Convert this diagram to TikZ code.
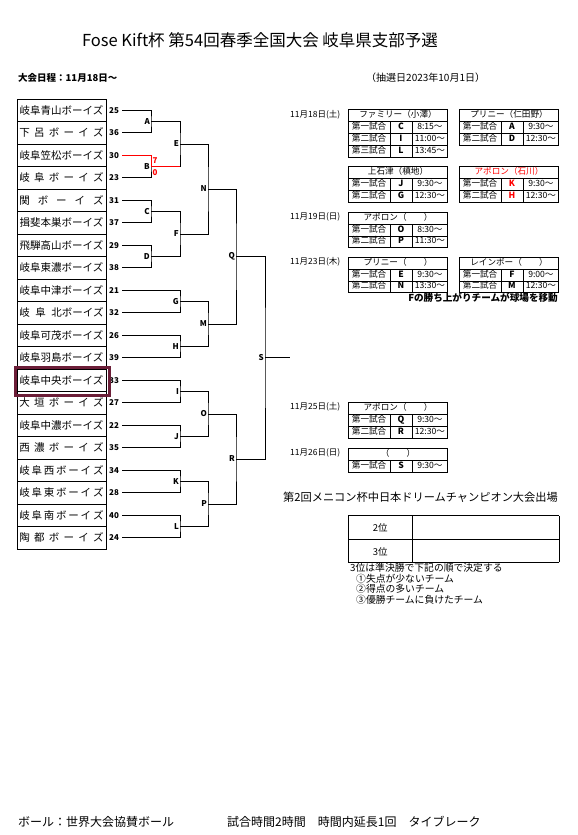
\documentclass[tikz,border=0pt]{standalone}
\usepackage{fontspec}
\usepackage{array}
\setmainfont{Noto Sans CJK JP}
\usetikzlibrary{positioning}
\definecolor{hilite}{RGB}{108,30,56}
\setlength{\tabcolsep}{0pt}
\newcolumntype{C}[1]{>{\centering\arraybackslash}p{#1}}
\newcommand{\spaced}[1]{\makebox[84pt][s]{#1}}
\tikzstyle{team} = [rectangle,draw,minimum width=89pt,minimum height=22.5pt,inner sep=0pt,outer sep=0pt,font=\fontsize{10.5}{12}\selectfont]
\tikzstyle{seed} = [inner xsep=3pt,inner ysep=0pt,font=\fontsize{8}{9}\selectfont\bfseries]
\tikzstyle{lbl} = [anchor=east,inner sep=1pt,font=\fontsize{8}{9}\selectfont\bfseries]
\tikzstyle{score} = [anchor=west,inner sep=0pt,text=red,font=\fontsize{8}{9}\selectfont\bfseries]
\tikzstyle{sched} = [anchor=north west,inner sep=0pt,font=\fontsize{8.6}{11.5}\selectfont]
\tikzstyle{day} = [anchor=west,inner sep=0pt,font=\fontsize{8.5}{10}\selectfont]
\tikzstyle{bline} = [line width=0.8pt]

\begin{document}
\begin{tikzpicture}[x=1pt,y=-1pt]
    	\useasboundingbox (0,0) rectangle (578,835);

    	\node[font=\fontsize{16.5}{18}\selectfont](title) at (260,40) {Fose Kift杯 第54回春季全国大会 岐阜県支部予選};
    	\node[day,font=\fontsize{9.5}{11}\selectfont\bfseries](dates) at (18,78) {大会日程：11月18日～};
    	\node[day,font=\fontsize{10}{11}\selectfont](draw) at (366,78) {（抽選日2023年10月1日）};

    	\node[team](t1) at (61.5,110.25) {岐阜青山ボーイズ};
    	\node[team,below=0pt of t1](t2) {\spaced{下 呂 ボ ー イ ズ}};
    	\node[team,below=0pt of t2](t3) {岐阜笠松ボーイズ};
    	\node[team,below=0pt of t3](t4) {\spaced{岐 阜 ボ ー イ ズ}};
    	\node[team,below=0pt of t4](t5) {\spaced{関 ボ ー イ ズ}};
    	\node[team,below=0pt of t5](t6) {揖斐本巣ボーイズ};
    	\node[team,below=0pt of t6](t7) {飛騨高山ボーイズ};
    	\node[team,below=0pt of t7](t8) {岐阜東濃ボーイズ};
    	\node[team,below=0pt of t8](t9) {岐阜中津ボーイズ};
    	\node[team,below=0pt of t9](t10) {\spaced{岐 阜 北ボーイズ}};
    	\node[team,below=0pt of t10](t11) {岐阜可茂ボーイズ};
    	\node[team,below=0pt of t11](t12) {岐阜羽島ボーイズ};
    	\node[team,below=0pt of t12](t13) {岐阜中央ボーイズ};
    	\node[team,below=0pt of t13](t14) {\spaced{大 垣 ボ ー イ ズ}};
    	\node[team,below=0pt of t14](t15) {岐阜中濃ボーイズ};
    	\node[team,below=0pt of t15](t16) {\spaced{西 濃 ボ ー イ ズ}};
    	\node[team,below=0pt of t16](t17) {\spaced{岐 阜 西 ボ ー イ ズ}};
    	\node[team,below=0pt of t17](t18) {\spaced{岐 阜 東 ボ ー イ ズ}};
    	\node[team,below=0pt of t18](t19) {\spaced{岐 阜 南 ボ ー イ ズ}};
    	\node[team,below=0pt of t19](t20) {\spaced{陶 都 ボ ー イ ズ}};

    	\node[seed,right=0pt of t1](s1) {25};
    	\node[seed,right=0pt of t2](s2) {36};
    	\node[seed,right=0pt of t3](s3) {30};
    	\node[seed,right=0pt of t4](s4) {23};
    	\node[seed,right=0pt of t5](s5) {31};
    	\node[seed,right=0pt of t6](s6) {37};
    	\node[seed,right=0pt of t7](s7) {29};
    	\node[seed,right=0pt of t8](s8) {38};
    	\node[seed,right=0pt of t9](s9) {21};
    	\node[seed,right=0pt of t10](s10) {32};
    	\node[seed,right=0pt of t11](s11) {26};
    	\node[seed,right=0pt of t12](s12) {39};
    	\node[seed,right=0pt of t13](s13) {33};
    	\node[seed,right=0pt of t14](s14) {27};
    	\node[seed,right=0pt of t15](s15) {22};
    	\node[seed,right=0pt of t16](s16) {35};
    	\node[seed,right=0pt of t17](s17) {34};
    	\node[seed,right=0pt of t18](s18) {28};
    	\node[seed,right=0pt of t19](s19) {40};
    	\node[seed,right=0pt of t20](s20) {24};

    	\node[draw=hilite,line width=2.5pt,minimum width=94pt,minimum height=28pt](mark) at (62.5,381.5) {};

    	% match points
    	\coordinate (A) at (151,121.5);
    	\coordinate (B) at (151,166.5);
    	\coordinate (C) at (151,211.5);
    	\coordinate (D) at (151,256.5);
    	\coordinate (E) at (180,144);
    	\coordinate (F) at (180,234);
    	\coordinate (G) at (180,301.5);
    	\coordinate (H) at (180,346.5);
    	\coordinate (I) at (180,391.5);
    	\coordinate (J) at (180,436.5);
    	\coordinate (K) at (180,481.5);
    	\coordinate (L) at (180,526.5);
    	\coordinate (N) at (208,189);
    	\coordinate (M) at (208,324);
    	\coordinate (O) at (208,414);
    	\coordinate (P) at (208,504);
    	\coordinate (Q) at (236,256.5);
    	\coordinate (R) at (236,459);
    	\coordinate (S) at (265,357.75);
    	\coordinate (champ) at (290,357.75);

    	\draw[bline] (s1.east) -| (A) |- (s2.east);
    	\draw[bline] (s3.east) -| (B) |- (s4.east);
    	\draw[bline] (s5.east) -| (C) |- (s6.east);
    	\draw[bline] (s7.east) -| (D) |- (s8.east);
    	\draw[bline] (s9.east) -| (G) |- (s10.east);
    	\draw[bline] (s11.east) -| (H) |- (s12.east);
    	\draw[bline] (s13.east) -| (I) |- (s14.east);
    	\draw[bline] (s15.east) -| (J) |- (s16.east);
    	\draw[bline] (s17.east) -| (K) |- (s18.east);
    	\draw[bline] (s19.east) -| (L) |- (s20.east);
    	\draw[bline] (A) -| (E) |- (B);
    	\draw[bline] (C) -| (F) |- (D);
    	\draw[bline] (E) -| (N) |- (F);
    	\draw[bline] (G) -| (M) |- (H);
    	\draw[bline] (I) -| (O) |- (J);
    	\draw[bline] (K) -| (P) |- (L);
    	\draw[bline] (N) -| (Q) |- (M);
    	\draw[bline] (O) -| (R) |- (P);
    	\draw[bline] (Q) -| (S) |- (R);
    	\draw[bline] (S) -- (champ);
    	\draw[bline,red] (s3.east) -| (B) -- (E |- B);

    	\node[score](sc1) at (152.5,160.5) {7};
    	\node[score](sc2) at (152.5,172.5) {0};

    	\node[lbl](lA) at (A) {A};
    	\node[lbl](lB) at (B) {B};
    	\node[lbl](lC) at (C) {C};
    	\node[lbl](lD) at (D) {D};
    	\node[lbl](lE) at (E) {E};
    	\node[lbl](lF) at (F) {F};
    	\node[lbl](lG) at (G) {G};
    	\node[lbl](lH) at (H) {H};
    	\node[lbl](lI) at (I) {I};
    	\node[lbl](lJ) at (J) {J};
    	\node[lbl](lK) at (K) {K};
    	\node[lbl](lL) at (L) {L};
    	\node[lbl](lM) at (M) {M};
    	\node[lbl](lN) at (N) {N};
    	\node[lbl](lO) at (O) {O};
    	\node[lbl](lP) at (P) {P};
    	\node[lbl](lQ) at (Q) {Q};
    	\node[lbl](lR) at (R) {R};
    	\node[lbl](lS) at (S) {S};

    	% schedule
    	\node[day](d18) at (290,115) {11月18日(土)};
    	\node[sched](famiry) at (348,109) {\begin{tabular}{|C{41pt}|C{22pt}|C{35pt}|}\hline
    		\multicolumn{3}{|c|}{ファミリー（小澤）}\\\hline
    		第一試合 & \textbf{C} & 8:15～\\\hline
    		第二試合 & \textbf{I} & 11:00～\\\hline
    		第三試合 & \textbf{L} & 13:45～\\\hline
    		\end{tabular}};
    	\node[sched](pliny1) at (459,109) {\begin{tabular}{|C{41pt}|C{22pt}|C{35pt}|}\hline
    		\multicolumn{3}{|c|}{プリニー（仁田野）}\\\hline
    		第一試合 & \textbf{A} & 9:30～\\\hline
    		第二試合 & \textbf{D} & 12:30～\\\hline
    		\end{tabular}};
    	\node[sched](kamiishizu) at (348,166) {\begin{tabular}{|C{41pt}|C{22pt}|C{35pt}|}\hline
    		\multicolumn{3}{|c|}{上石津（槙地）}\\\hline
    		第一試合 & \textbf{J} & 9:30～\\\hline
    		第二試合 & \textbf{G} & 12:30～\\\hline
    		\end{tabular}};
    	\node[sched](apollo1) at (459,166) {\begin{tabular}{|C{41pt}|C{22pt}|C{35pt}|}\hline
    		\multicolumn{3}{|c|}{\color{red}アポロン（石川）}\\\hline
    		第一試合 & \textcolor{red}{\textbf{K}} & 9:30～\\\hline
    		第二試合 & \textcolor{red}{\textbf{H}} & 12:30～\\\hline
    		\end{tabular}};

    	\node[day](d19) at (290,217) {11月19日(日)};
    	\node[sched](apollo2) at (348,211.5) {\begin{tabular}{|C{41pt}|C{22pt}|C{35pt}|}\hline
    		\multicolumn{3}{|c|}{アポロン（　　）}\\\hline
    		第一試合 & \textbf{O} & 8:30～\\\hline
    		第二試合 & \textbf{P} & 11:30～\\\hline
    		\end{tabular}};

    	\node[day](d23) at (290,262) {11月23日(木)};
    	\node[sched](pliny2) at (348,256.5) {\begin{tabular}{|C{41pt}|C{22pt}|C{35pt}|}\hline
    		\multicolumn{3}{|c|}{プリニー（　　）}\\\hline
    		第一試合 & \textbf{E} & 9:30～\\\hline
    		第二試合 & \textbf{N} & 13:30～\\\hline
    		\end{tabular}};
    	\node[sched](rainbow) at (459,256.5) {\begin{tabular}{|C{41pt}|C{22pt}|C{35pt}|}\hline
    		\multicolumn{3}{|c|}{レインボー（　　）}\\\hline
    		第一試合 & \textbf{F} & 9:00～\\\hline
    		第二試合 & \textbf{M} & 12:30～\\\hline
    		\end{tabular}};
    	\node[anchor=east,inner sep=0pt,font=\fontsize{9.6}{11}\selectfont\bfseries](move) at (558,298) {Fの勝ち上がりチームが球場を移動};

    	\node[day](d25) at (290,407) {11月25日(土)};
    	\node[sched](apollo3) at (348,402) {\begin{tabular}{|C{41pt}|C{22pt}|C{35pt}|}\hline
    		\multicolumn{3}{|c|}{アポロン（　　）}\\\hline
    		第一試合 & \textbf{Q} & 9:30～\\\hline
    		第二試合 & \textbf{R} & 12:30～\\\hline
    		\end{tabular}};

    	\node[day](d26) at (290,453) {11月26日(日)};
    	\node[sched](final) at (348,447.5) {\begin{tabular}{|C{41pt}|C{22pt}|C{35pt}|}\hline
    		\multicolumn{3}{|c|}{（　　）}\\\hline
    		第一試合 & \textbf{S} & 9:30～\\\hline
    		\end{tabular}};

    	% dream cup
    	\node[anchor=west,inner sep=0pt,font=\fontsize{11.2}{13}\selectfont](dream) at (283,497) {第2回メニコン杯中日本ドリームチャンピオン大会出場};
    	\node[sched,font=\fontsize{9.5}{11.5}\selectfont](rank) at (348,515) {\renewcommand{\arraystretch}{2}\begin{tabular}{|C{63.5pt}|p{146pt}|}\hline
    		2位 & \\\hline
    		3位 & \\\hline
    		\end{tabular}};
    	\node[anchor=north west,inner sep=0pt,align=left,font=\fontsize{9.8}{10.7}\selectfont](rule) at (350,563) {3位は準決勝で下記の順で決定する\\
    		\hspace*{6pt}①失点が少ないチーム\\
    		\hspace*{6pt}②得点の多いチーム\\
    		\hspace*{6pt}③優勝チームに負けたチーム};

    	\node[anchor=west,inner sep=0pt,font=\fontsize{12}{14}\selectfont](ball) at (18,822) {ボール：世界大会協賛ボール};
    	\node[anchor=west,inner sep=0pt,font=\fontsize{12}{14}\selectfont](time) at (227,822) {試合時間2時間　時間内延長1回　タイブレーク};

\end{tikzpicture}
\end{document}
